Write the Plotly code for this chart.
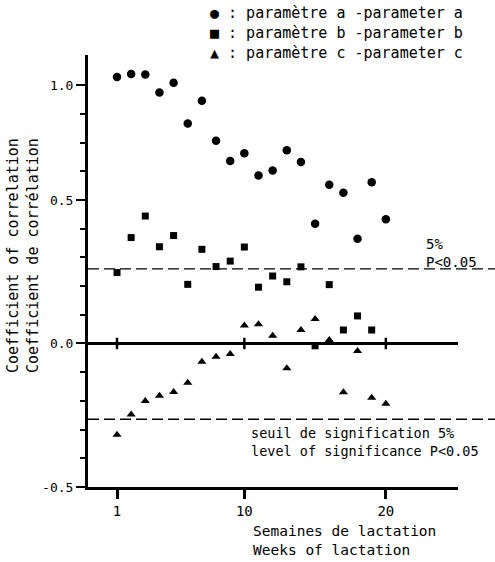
import plotly.graph_objects as go

# ---------------- data ----------------
WEEKS_A = list(range(1, 21))
PARAM_A = [0.928, 0.939, 0.937, 0.874, 0.908, 0.766, 0.846, 0.706, 0.636, 0.663,
           0.585, 0.603, 0.673, 0.632, 0.417, 0.553, 0.525, 0.365, 0.562, 0.433]

WEEKS_B = list(range(1, 20))
PARAM_B = [0.247, 0.369, 0.444, 0.337, 0.376, 0.206, 0.328, 0.268, 0.287, 0.336,
           0.196, 0.235, 0.215, 0.267, -0.008, 0.205, 0.047, 0.096, 0.047]

WEEKS_C = list(range(1, 21))
PARAM_C = [-0.318, -0.247, -0.200, -0.182, -0.169, -0.137, -0.064, -0.046, -0.037, 0.063,
           0.067, 0.027, -0.086, 0.047, 0.085, 0.012, -0.170, -0.026, -0.189, -0.210]

SIG_UPPER = 0.26
SIG_LOWER = -0.264

X_TICKS = [1, 10, 20]
X_TICK_LABELS = ["1", "10", "20"]
Y_TICKS = [-0.5, 0.0, 0.5, 0.9]
Y_TICK_LABELS = ["-0.5", "0.0", "0.5", "1.0"]
Y_MINOR = [-0.4, -0.3, -0.2, -0.1, 0.1, 0.2, 0.3, 0.4, 0.6, 0.7, 0.8]

LEGEND_A = "● : paramètre a -parameter a"
LEGEND_B = "■ : paramètre b -parameter b"
LEGEND_C = "▲ : paramètre c -parameter c"

# ---------------- layout helpers ----------------
W, H = 495, 562
ML, MR, MT, MB = 88, 37, 55, 75
PW, PH = W - ML - MR, H - MT - MB
X_RANGE = [-1.05, 25.1]
Y_RANGE = [-0.5, 1.005]
FONT = "DejaVu Sans Mono"


def pxx(px):
    return (px - ML) / PW


def pxy(py):
    return (H - MB - py) / PH


fig = go.Figure()
fig.add_trace(go.Scatter(x=WEEKS_A, y=PARAM_A, mode="markers", name="paramètre a",
                         marker=dict(symbol="circle", size=8.5, color="black"), showlegend=False))
fig.add_trace(go.Scatter(x=WEEKS_B, y=PARAM_B, mode="markers", name="paramètre b",
                         marker=dict(symbol="square", size=7, color="black"), showlegend=False))
fig.add_trace(go.Scatter(x=WEEKS_C, y=PARAM_C, mode="markers", name="paramètre c",
                         marker=dict(symbol="triangle-up", size=8, color="black"), showlegend=False))

shapes = []
# zero line
shapes.append(dict(type="line", xref="paper", yref="y", x0=0, x1=1,
                   y0=0, y1=0, line=dict(color="black", width=3)))
for xt in X_TICKS:
    shapes.append(dict(type="line", xref="x", yref="y", x0=xt, x1=xt, y0=-0.02, y1=0.02,
                       line=dict(color="black", width=2.5)))
# significance lines, running past the axis end to the figure edge
for yv in (SIG_UPPER, SIG_LOWER):
    shapes.append(dict(type="line", xref="paper", yref="y", x0=0, x1=pxx(W), y0=yv, y1=yv,
                       line=dict(color="black", width=1.3, dash="11px,5px")))

annotations = []


def txt(text, px, py, size, anchor="left", angle=0):
    annotations.append(dict(text=text, xref="paper", yref="paper", x=pxx(px), y=pxy(py),
                            xanchor=anchor, yanchor="middle", showarrow=False, align="left",
                            textangle=angle, font=dict(family=FONT, size=size, color="black")))


txt(LEGEND_A, 208, 13, 15)
txt(LEGEND_B, 208, 33, 15)
txt(LEGEND_C, 208, 53, 15)
txt("5%<br>P&lt;0.05", 424, 253, 14)
txt("seuil de signification 5%<br>level of significance P&lt;0.05", 249, 442, 13.5)
txt("Semaines de lactation<br>Weeks of lactation", 251, 540, 14.5)
annotations.append(dict(text="Coefficient of correlation<br>Coefficient de corrélation",
                        xref="paper", yref="paper", x=pxx(23), y=pxy(256), xanchor="center",
                        yanchor="middle", showarrow=False, textangle=-90,
                        font=dict(family=FONT, size=15, color="black")))

fig.update_layout(
    width=W, height=H, margin=dict(l=ML, r=MR, t=MT, b=MB, pad=0),
    paper_bgcolor="white", plot_bgcolor="white",
    shapes=shapes, annotations=annotations,
    xaxis=dict(range=X_RANGE, showgrid=False, zeroline=False, showline=True,
               linecolor="black", linewidth=3,
               tickmode="array", tickvals=X_TICKS, ticktext=X_TICK_LABELS,
               ticks="outside", ticklen=9, tickwidth=3, tickcolor="black",
               tickfont=dict(family=FONT, size=14, color="black")),
    yaxis=dict(range=Y_RANGE, showgrid=False, zeroline=False, showline=True,
               linecolor="black", linewidth=3,
               tickmode="array", tickvals=Y_TICKS, ticktext=Y_TICK_LABELS,
               ticks="outside", ticklen=9, tickwidth=2, tickcolor="black",
               tickfont=dict(family=FONT, size=13, color="black"),
               minor=dict(tickmode="array", tickvals=Y_MINOR, ticks="outside",
                          ticklen=5, tickwidth=2, tickcolor="black", showgrid=False)),
)

fig.write_html("out.html")
